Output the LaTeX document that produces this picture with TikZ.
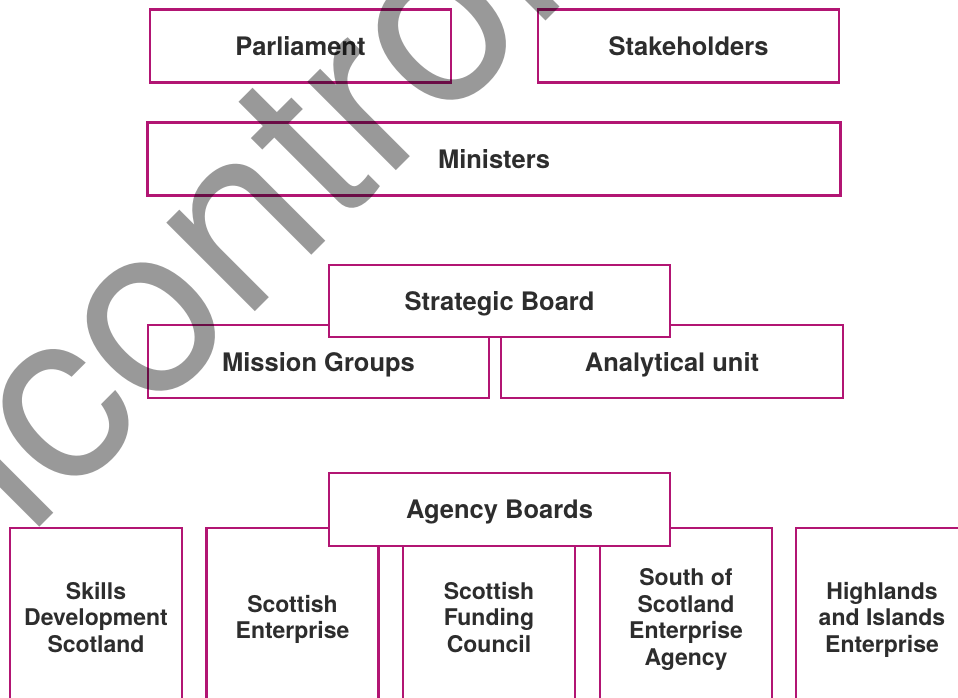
\documentclass[tikz,border=0pt]{standalone}
\usepackage{fontspec}
\setmainfont{TeX Gyre Heros}
\definecolor{plum}{RGB}{178,21,115}
\definecolor{ink}{RGB}{45,45,45}
\begin{document}
\begin{tikzpicture}[x=1pt,y=-1pt,
  box/.style={draw=plum, line width=2.9pt, fill=white, inner sep=0pt,
    text=ink, text depth=0pt, font=\fontsize{25.5}{30}\selectfont\bfseries},
  unit/.style={box, minimum width=172pt, minimum height=178pt, align=center,
    font=\fontsize{23}{26.5}\selectfont\bfseries},
  stamp/.style={inner sep=0pt, anchor=base west, rotate=45, text=black,
    text opacity=0.4, font=\fontsize{239}{239}\selectfont}]
\clip (0,0) rectangle (958,697);
\fill[white] (0,0) rectangle (958,697);

% governance level
\node[box, minimum width=301pt, minimum height=72.5pt] (parl)  at (300.5,46) {Parliament};
\node[box, minimum width=301pt, minimum height=72.5pt] (stake) at (688.5,46) {Stakeholders};
\node[box, minimum width=693pt, minimum height=72.5pt] (mini)  at (494,159) {Ministers};

% strategic level
\node[box, minimum width=341pt, minimum height=73pt] (miss) at (318.5,361.5) {Mission Groups};
\node[box, minimum width=342pt, minimum height=73pt] (anal) at (672,361.5) {Analytical unit};
\node[box, minimum width=341pt, minimum height=72pt] (strat) at (499.5,301) {Strategic Board};

% agencies
\node[unit] (sds)  at (96,617)  {Skills\\Development\\Scotland};
\node[unit] (se)   at (292.5,617) {Scottish\\Enterprise};
\node[unit] (sfc)  at (489,617) {Scottish\\Funding\\Council};
\node[unit] (sose) at (686,617) {South of\\Scotland\\Enterprise\\Agency};
\node[unit] (hie)  at (882,617) {Highlands\\and Islands\\Enterprise};
\node[box, minimum width=341pt, minimum height=73pt] (agency) at (499.5,509.5) {Agency Boards};

% stamp across the chart
\node[stamp] (mark) at (-150,717) {Uncontrolled};
\end{tikzpicture}
\end{document}
